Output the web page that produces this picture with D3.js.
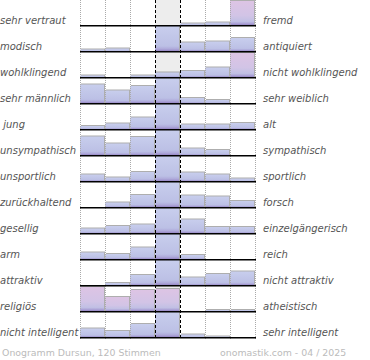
<!DOCTYPE html>
<head>
<meta charset="utf-8">
<script src="https://d3js.org/d3.v7.min.js"></script>
<style>
  body { margin: 0; background: #fff; }
  .lbl { font-family: "DejaVu Sans", Verdana, sans-serif; font-size: 10px; font-style: italic; fill: #555; white-space: pre; }
  .foot { font-family: "DejaVu Sans", Verdana, sans-serif; font-size: 9.4px; fill: #bbb; }
</style>
</head>
<body>
<div id="vis"></div>
<script>
// left / right poles of each scale
var leftLabels = ["sehr vertraut", "modisch", "wohlklingend", "sehr männlich", " jung",
  "unsympathisch", "unsportlich", "zurückhaltend", "gesellig", "arm", "attraktiv",
  "religiös", "nicht intelligent"];
var rightLabels = ["fremd", "antiquiert", "nicht wohlklingend", "sehr weiblich", "alt",
  "sympathisch", "sportlich", "forsch", "einzelgängerisch", "reich", "nicht attraktiv",
  "atheistisch", "sehr intelligent"];

// vote share per step (7 steps)
var votes = [
  [0, 0, 0, 0, 1.5, 2.5, 24],
  [1.5, 2.5, 0, 25, 8.5, 9.5, 13],
  [1.5, 0, 1.5, 4.5, 6, 9.5, 24],
  [18.5, 12.5, 17, 25, 5, 3, 0],
  [3, 5.5, 11.5, 25, 4.5, 4.5, 6],
  [18.5, 11.5, 18, 25, 6.5, 5, 0],
  [6.5, 3.5, 9, 25, 8.5, 6.5, 2.5],
  [0, 4.5, 12, 25, 11.5, 10.5, 6],
  [4.5, 7, 8.5, 25, 13.5, 6, 6],
  [6.5, 5, 11.5, 25, 4, 0, 0],
  [0, 2, 10, 25, 7.5, 11, 13.5],
  [24, 14, 21, 22, 0, 1, 1],
  [8.5, 6, 13, 25, 2.5, 0.5, 0]
];
// bars drawn in the highlight tone: [row, step]
var highlighted = [[0, 6], [2, 6], [11, 0], [11, 1], [11, 2], [11, 3]];

var steps = d3.range(7);
var footLeft = "Onogramm Dursun, 120 Stimmen";
var footRight = "onomastik.com - 04 / 2025";

var width = 370, height = 360;
var svg = d3.select("#vis").append("svg")
  .attr("width", width).attr("height", height);

var defs = svg.append("defs");
function grad(id, stops) {
  var g = defs.append("linearGradient").attr("id", id)
    .attr("x1", 0).attr("y1", 0).attr("x2", 0).attr("y2", 1);
  stops.forEach(function (s) {
    g.append("stop").attr("offset", s[0]).attr("stop-color", s[1]);
  });
}
grad("blue", [[0, "#c8ceed"], [0.8, "#bcc0e5"], [0.92, "#aea9da"], [1, "#9686c4"]]);
grad("pink", [[0, "#ddc4e4"], [0.6, "#d2c4e6"], [0.85, "#c1c0e4"], [0.93, "#aea6d8"], [1, "#9686c4"]]);

var x = d3.scaleBand().domain(steps).range([80, 255]);
var row = d3.scaleLinear().domain([0, 12]).range([25, 337]);
var h = d3.scaleLinear().domain([0, 25]).range([0, 25]);

var x0 = x.range()[0], x1 = x.range()[1];

// neutral column background
svg.append("rect")
  .attr("x", x(3)).attr("y", 0)
  .attr("width", x.bandwidth()).attr("height", 338)
  .attr("fill", "#ededed");

// bars
votes.forEach(function (vals, r) {
  var g = svg.append("g");
  vals.forEach(function (v, c) {
    if (v <= 0) return;
    var isHi = highlighted.some(function (p) { return p[0] == r && p[1] == c; });
    var top = row(r) - h(v);
    g.append("rect")
      .attr("x", x(c) + 1).attr("y", top - 1)
      .attr("width", x.bandwidth() - 1).attr("height", h(v) + 1)
      .attr("fill", "#9a9a9a").attr("opacity", 0.8);
    g.append("rect")
      .attr("x", x(c)).attr("y", top)
      .attr("width", x.bandwidth() - 1).attr("height", h(v))
      .attr("fill", isHi ? "url(#pink)" : "url(#blue)");
  });
});

// grid lines
var bounds = steps.map(function (s) { return x(s); }).concat([x1]);
svg.selectAll(".grid").data(bounds).enter().append("line")
  .attr("x1", function (d) { return d + 0.5; })
  .attr("x2", function (d) { return d + 0.5; })
  .attr("y1", 0).attr("y2", 339)
  .attr("stroke", function (d, i) { return (i == 3 || i == 4) ? "#000" : "#aaa"; })
  .attr("stroke-width", 1)
  .attr("stroke-dasharray", function (d, i) { return (i == 3 || i == 4) ? "3,2" : "1,1"; });

// base lines
svg.selectAll(".base").data(votes).enter().append("line")
  .attr("x1", x0).attr("x2", x1 + 1)
  .attr("y1", function (d, i) { return row(i) + 0.75; })
  .attr("y2", function (d, i) { return row(i) + 0.75; })
  .attr("stroke", "#000").attr("stroke-width", 1.5);

// labels
svg.selectAll(".left").data(leftLabels).enter().append("text")
  .attr("class", "lbl")
  .attr("x", 0).attr("y", function (d, i) { return row(i) - 1.5; })
  .text(function (d) { return d; });

svg.selectAll(".right").data(rightLabels).enter().append("text")
  .attr("class", "lbl")
  .attr("x", 263).attr("y", function (d, i) { return row(i) - 1.5; })
  .text(function (d) { return d; });

svg.append("text").attr("class", "foot")
  .attr("x", 2).attr("y", 356).text(footLeft);
svg.append("text").attr("class", "foot")
  .attr("x", 220).attr("y", 356).text(footRight);
</script>
</body>
